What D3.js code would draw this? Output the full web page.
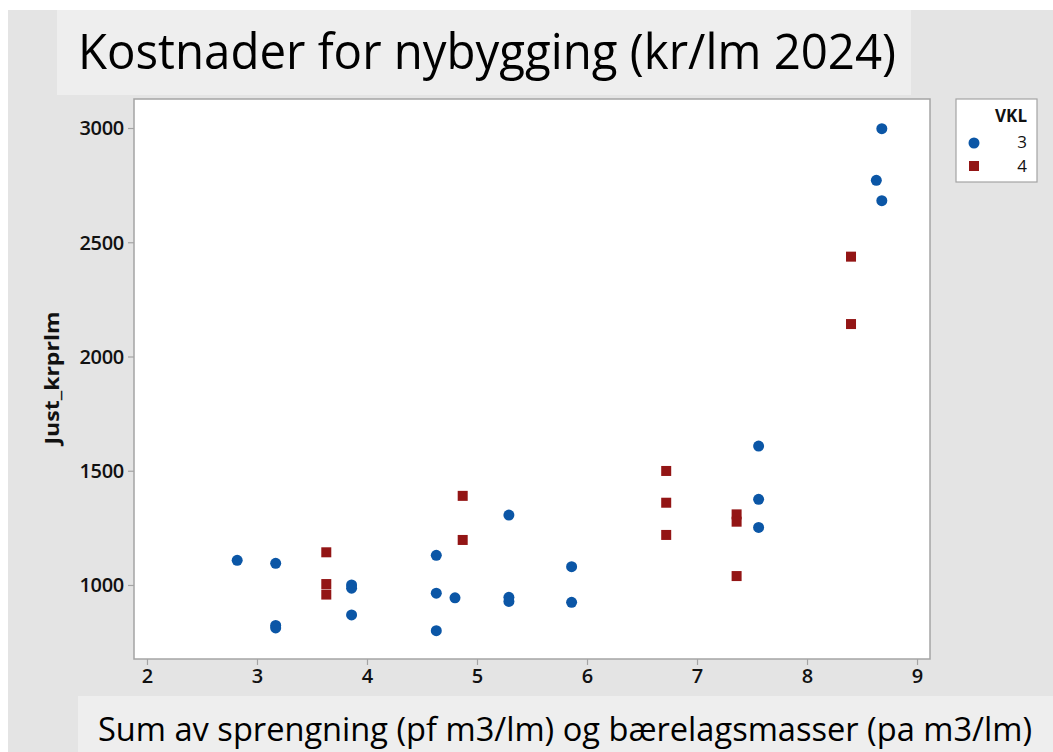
<!DOCTYPE html>
<html>
<head>
<meta charset="utf-8">
<script src="https://cdn.jsdelivr.net/npm/d3@7"></script>
<style>
  body { margin: 0; background: #fff; }
  text { font-family: "Open Sans", "Noto Sans", sans-serif; }
</style>
</head>
<body>
<div id="chart"></div>
<script>
// VKL 3 (blue dots)
const sum_vkl3  = [2.82, 3.17, 3.17, 3.17, 3.86, 3.86, 3.86, 4.63, 4.63, 4.63, 4.80,
                   5.29, 5.29, 5.29, 5.86, 5.86, 7.56, 7.56, 7.56, 8.63, 8.68, 8.68];
const kost_vkl3 = [1108, 1095, 823, 812, 1000, 986, 869, 1130, 964, 800, 944,
                   1306, 946, 928, 1080, 924, 1608, 1375, 1252, 2771, 2997, 2682];
// VKL 4 (red squares)
const sum_vkl4  = [3.63, 3.63, 3.63, 4.87, 4.87, 6.72, 6.72, 6.72, 7.36, 7.36, 7.36, 8.40, 8.40];
const kost_vkl4 = [1143, 1004, 958, 1390, 1197, 1499, 1360, 1219, 1309, 1277, 1039, 2437, 2142];

const x_ticks = [2, 3, 4, 5, 6, 7, 8, 9];
const y_ticks = [1000, 1500, 2000, 2500, 3000];
const vkl_groups = ["3", "4"];

const W = 1053, H = 752;
const margins = { top: 99, right: 123, bottom: 93, left: 134 };
const width = W - margins.left - margins.right;
const height = H - margins.top - margins.bottom;

const blue = "#0b56a6", red = "#931515", frame = "#a4a4a4";

const x_scale = d3.scaleLinear().domain([1.882, 9.118]).range([0, width]);
const y_scale = d3.scaleLinear().domain([676, 3127]).range([height, 0]);

const svg = d3.select("#chart")
  .append("svg")
  .attr("width", W)
  .attr("height", H);

// backgrounds
svg.append("rect").attr("x", 8).attr("y", 10).attr("width", W - 8).attr("height", H - 10).attr("fill", "#e4e4e4");
svg.append("rect").attr("x", 57).attr("y", 10).attr("width", 854).attr("height", 85).attr("fill", "#eeeeee");
svg.append("rect").attr("x", 78).attr("y", 696).attr("width", W - 78).attr("height", H - 696).attr("fill", "#eeeeee");

svg.append("text")
  .attr("x", 78).attr("y", 69)
  .attr("textLength", 818).attr("lengthAdjust", "spacingAndGlyphs")
  .style("font-family", "'Liberation Sans Narrow', 'Open Sans', sans-serif")
  .style("font-size", "50px")
  .attr("fill", "#000")
  .text("Kostnader for nybygging (kr/lm 2024)");

svg.append("text")
  .attr("x", 98).attr("y", 741)
  .attr("textLength", 934).attr("lengthAdjust", "spacingAndGlyphs")
  .style("font-family", "'Liberation Sans Narrow', 'Open Sans', sans-serif")
  .style("font-size", "32px")
  .attr("fill", "#000")
  .text("Sum av sprengning (pf m3/lm) og bærelagsmasser (pa m3/lm)");

const plot = svg.append("g")
  .attr("transform", "translate(" + margins.left + "," + margins.top + ")");

plot.append("rect")
  .attr("width", width).attr("height", height)
  .attr("fill", "#fff").attr("stroke", frame).attr("stroke-width", 1.5);

const x_axis = d3.axisBottom(x_scale).tickValues(x_ticks).tickSize(6).tickPadding(4).tickFormat(d3.format("d"));
const y_axis = d3.axisLeft(y_scale).tickValues(y_ticks).tickSize(6).tickPadding(4).tickFormat(d3.format("d"));

const gx = plot.append("g")
  .attr("transform", "translate(0," + height + ")")
  .call(x_axis);
const gy = plot.append("g").call(y_axis);

[gx, gy].forEach(g => {
  g.select(".domain").remove();
  g.selectAll(".tick line").attr("stroke", frame).attr("stroke-width", 1.2);
  g.selectAll(".tick text")
    .attr("fill", "#111")
    .style("font-family", "'Open Sans', sans-serif")
    .style("font-size", "20px")
    .style("font-weight", 600);
});
gy.selectAll(".tick text").attr("dy", "0.34em").style("letter-spacing", "-0.3px");

svg.append("text")
  .attr("transform", "translate(59,378) rotate(-90)")
  .attr("text-anchor", "middle")
  .attr("textLength", 133).attr("lengthAdjust", "spacingAndGlyphs")
  .style("font-size", "20px").style("font-weight", 700)
  .attr("fill", "#111")
  .text("Just_krprlm");

// points
plot.selectAll(".vkl3")
  .data(d3.zip(sum_vkl3, kost_vkl3))
  .join("circle")
  .attr("class", "vkl3")
  .attr("cx", d => x_scale(d[0]))
  .attr("cy", d => y_scale(d[1]))
  .attr("r", 5.5)
  .attr("fill", blue);

const sq = 10;
plot.selectAll(".vkl4")
  .data(d3.zip(sum_vkl4, kost_vkl4))
  .join("rect")
  .attr("class", "vkl4")
  .attr("x", d => x_scale(d[0]) - sq / 2)
  .attr("y", d => y_scale(d[1]) - sq / 2)
  .attr("width", sq).attr("height", sq)
  .attr("fill", red);

// legend
const legend = svg.append("g").attr("transform", "translate(956,99)");
legend.append("rect")
  .attr("width", 81).attr("height", 83)
  .attr("fill", "#fff").attr("stroke", frame).attr("stroke-width", 1.2);
legend.append("text")
  .attr("x", 71).attr("y", 23)
  .attr("text-anchor", "end")
  .style("font-size", "17px").style("font-weight", 700)
  .attr("fill", "#111")
  .text("VKL");
vkl_groups.forEach((g, i) => {
  const cy = 44 + i * 23;
  if (i === 0) {
    legend.append("circle").attr("cx", 18).attr("cy", cy).attr("r", 5.5).attr("fill", blue);
  } else {
    legend.append("rect").attr("x", 13).attr("y", cy - 5).attr("width", sq).attr("height", sq).attr("fill", red);
  }
  legend.append("text")
    .attr("x", 71).attr("y", 49 + i * 24)
    .attr("text-anchor", "end")
    .style("font-size", "17px")
    .attr("fill", "#111")
    .text(g);
});
</script>
</body>
</html>
